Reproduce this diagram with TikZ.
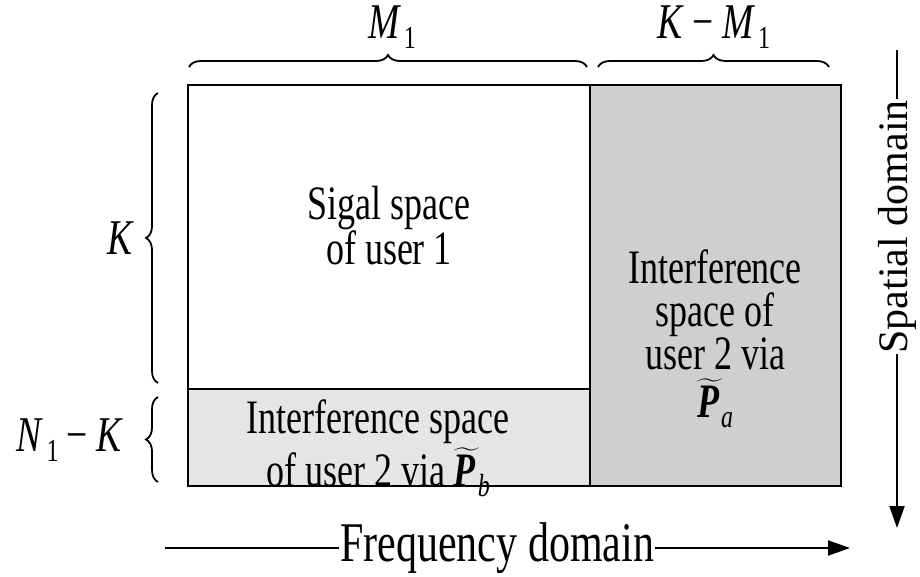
\documentclass[tikz,border=0pt]{standalone}
\usepackage{fontspec}
\setmainfont{Liberation Serif}[FakeStretch=0.75]
\newfontfamily\plainfont{Liberation Serif}
\usepackage{amsmath}
\usetikzlibrary{decorations.pathreplacing,arrows.meta}
\newcommand{\Ptil}[1]{$\widetilde{\text{\bfseries\itshape P\kern3pt}}$\kern-1pt\raisebox{-0.2em}{\fontsize{32}{32}\selectfont\itshape #1}}
\newcommand{\sub}[1]{\kern3pt\raisebox{-0.2em}{\fontsize{32}{32}\selectfont #1}}
\begin{document}
\begin{tikzpicture}[x=1pt,y=-1pt,
  body/.style={font=\fontsize{48}{43}\selectfont, align=center, inner sep=0pt},
  lab/.style={font=\fontsize{50}{50}\selectfont, inner sep=0pt},
  dom/.style={font=\fontsize{56}{56}\selectfont, inner sep=1pt, fill=white},
  sdom/.style={font=\plainfont\fontsize{42}{42}\selectfont, inner sep=1pt, fill=white},
  brc/.style={decorate, decoration={brace, amplitude=12pt}, line width=1.8pt},
  box/.style={draw, line width=2.5pt},
  arr/.style={line width=2pt, -{Triangle[length=22pt,width=15pt]}}]
\useasboundingbox (0,0) rectangle (920,577);
% regions
\fill[white] (188,85) rectangle (590,389);
\fill[black!10] (188,389) rectangle (590,486);
\fill[black!19] (590,85) rectangle (841,486);
\draw[box] (188,85) rectangle (841,486);
\draw[box] (590,85) -- (590,486);
\draw[box] (188,389) -- (590,389);
% texts
\node[body] (sig) at (389,226) {Sigal space\\of user 1};
\node[body] (intb) at (378,448) {Interference space\\[3pt]of user 2 via \Ptil{b}};
\node[body] (inta) at (715,339) {Interference\\space of\\user 2 via\\[5pt]\Ptil{a}};
% braces
\coordinate (t1a) at (189,67); \coordinate (t1b) at (587,67);
\coordinate (t2a) at (598,67); \coordinate (t2b) at (829,67);
\draw[brc] (t1a) -- (t1b);
\draw[brc] (t2a) -- (t2b);
\coordinate (l1a) at (158,383); \coordinate (l1b) at (158,93);
\coordinate (l2a) at (158,482); \coordinate (l2b) at (158,397);
\draw[brc] (l1a) -- (l1b);
\draw[brc] (l2a) -- (l2b);
\node[lab] (m1) at (392,27) {\textit{M}\sub{1}};
\node[lab] (km1) at (714,27) {\textit{K}\,\textminus\,\textit{M}\sub{1}};
\node[lab] (k) at (121,238) {\textit{K}};
\node[lab] (n1k) at (70,440) {\textit{N}\sub{1}\,\textminus\,\textit{K}};
% domain arrows
\coordinate (fs) at (165,548); \coordinate (fe) at (850,548);
\draw[arr] (fs) -- (fe) node[dom, pos=0.485] (freq) {Frequency domain};
\coordinate (ss) at (897,50); \coordinate (se) at (897,528);
\draw[arr] (ss) -- (se) node[sdom, pos=0.37, rotate=90] (spat) {Spatial domain};
\end{tikzpicture}
\end{document}
